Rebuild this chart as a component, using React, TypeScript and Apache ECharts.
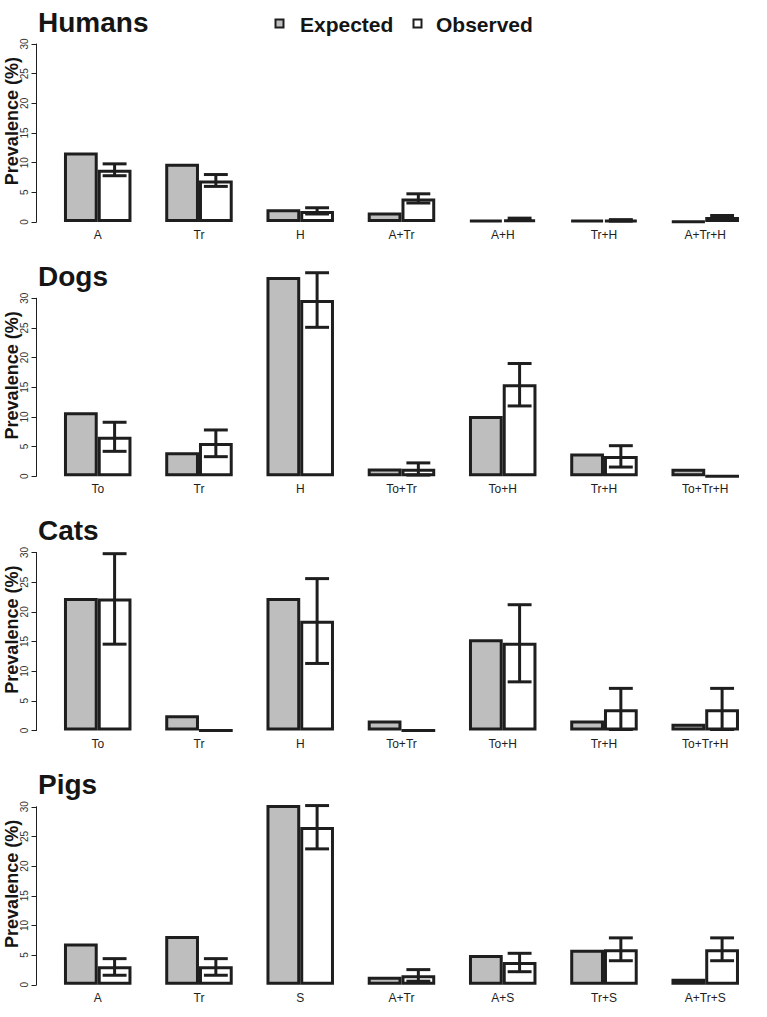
import React, { useEffect, useRef } from "react";
import * as echarts from "echarts";

const panelNames = ["Humans", "Dogs", "Cats", "Pigs"];

const humansCategories = ["A", "Tr", "H", "A+Tr", "A+H", "Tr+H", "A+Tr+H"];
const humansExpected = [11.7, 9.8, 2.15, 1.6, 0.3, 0.3, 0.1];
const humansObserved = [8.8, 7.0, 1.85, 3.95, 0.45, 0.3, 0.85];
const humansLow = [7.8, 6.0, 1.35, 3.2, 0.25, 0.15, 0.55];
const humansHigh = [9.8, 8.0, 2.4, 4.75, 0.65, 0.4, 1.1];

const dogsCategories = ["To", "Tr", "H", "To+Tr", "To+H", "Tr+H", "To+Tr+H"];
const dogsExpected = [10.8, 4.05, 33.6, 1.3, 10.15, 3.85, 1.25];
const dogsObserved = [6.65, 5.6, 29.7, 1.25, 15.5, 3.4, 0];
const dogsLow = [4.2, 3.3, 25.1, 0.2, 11.85, 1.55, null];
const dogsHigh = [9.1, 7.8, 34.3, 2.25, 19.0, 5.15, null];

const catsCategories = ["To", "Tr", "H", "To+Tr", "To+H", "Tr+H", "To+Tr+H"];
const catsExpected = [22.35, 2.55, 22.35, 1.7, 15.4, 1.7, 1.13];
const catsObserved = [22.25, 0, 18.5, 0, 14.8, 3.6, 3.6];
const catsLow = [14.55, null, 11.3, null, 8.2, 0.17, 0.17];
const catsHigh = [29.8, null, 25.6, null, 21.2, 7.1, 7.1];

const pigsCategories = ["A", "Tr", "S", "A+Tr", "A+S", "Tr+S", "A+Tr+S"];
const pigsExpected = [6.95, 8.2, 30.3, 1.35, 5.0, 5.9, 1.0];
const pigsObserved = [3.1, 3.1, 26.6, 1.6, 3.85, 6.0, 6.0];
const pigsLow = [1.6, 1.6, 22.9, 0.6, 2.2, 4.05, 4.05];
const pigsHigh = [4.4, 4.4, 30.2, 2.55, 5.3, 7.9, 7.9];

const yTicksMin = 0;
const yTicksMax = 30;
const yTickStep = 5;

const legendNames = ["Expected", "Observed"];
const yLabel = "Prevalence (%)";

const panels = [
  { cats: humansCategories, exp: humansExpected, obs: humansObserved, low: humansLow, high: humansHigh },
  { cats: dogsCategories, exp: dogsExpected, obs: dogsObserved, low: dogsLow, high: dogsHigh },
  { cats: catsCategories, exp: catsExpected, obs: catsObserved, low: catsLow, high: catsHigh },
  { cats: pigsCategories, exp: pigsExpected, obs: pigsObserved, low: pigsLow, high: pigsHigh },
];

const FONT = "'Liberation Sans', Arial, Helvetica, sans-serif";
const INK = "#1e1e1e";
const GRAY = "#bebebe";

export default function App() {
  const ref = useRef<HTMLDivElement>(null);

  useEffect(() => {
    document.body.style.margin = "0";
    if (!ref.current) return;
    const chart = echarts.init(ref.current, null, { renderer: "svg" });

    const PANEL_STEP = 254.25;
    const ZERO0 = 222;
    const PLOT_H = 178;
    const GRID_LEFT = 47.1;
    const GRID_W = 708.75;
    const AXIS_X = 36.5;

    const grids: any[] = [];
    const xAxes: any[] = [];
    const yAxes: any[] = [];
    const series: any[] = [];
    const graphics: any[] = [];

    panels.forEach((p, i) => {
      const zero = ZERO0 + PANEL_STEP * i;
      grids.push({ left: GRID_LEFT, width: GRID_W, top: zero - PLOT_H, height: PLOT_H });
      xAxes.push({
        type: "category",
        gridIndex: i,
        data: p.cats,
        axisLine: { show: false },
        axisTick: { show: false },
        axisLabel: { interval: 0, fontSize: 12, color: INK, margin: 7, fontFamily: FONT },
      });
      yAxes.push({
        type: "value",
        gridIndex: i,
        min: yTicksMin,
        max: yTicksMax,
        interval: yTickStep,
        offset: GRID_LEFT - AXIS_X,
        axisLine: { show: true, lineStyle: { color: INK, width: 1 } },
        axisTick: { show: true, length: 5, lineStyle: { color: INK, width: 1 } },
        axisLabel: { rotate: 90, fontSize: 10, color: "#333", margin: 7, fontFamily: FONT },
        splitLine: { show: false },
      });
      series.push({
        name: legendNames[0],
        type: "bar",
        xAxisIndex: i,
        yAxisIndex: i,
        data: p.exp,
        clip: false,
        barGap: "0%",
        barCategoryGap: "33.333%",
        itemStyle: { color: GRAY, borderColor: INK, borderWidth: 3 },
        emphasis: { disabled: true },
      });
      series.push({
        name: legendNames[1],
        type: "bar",
        xAxisIndex: i,
        yAxisIndex: i,
        data: p.obs,
        clip: false,
        barGap: "0%",
        barCategoryGap: "33.333%",
        itemStyle: { color: "#ffffff", borderColor: INK, borderWidth: 3 },
        emphasis: { disabled: true },
      });
      const errData = p.cats
        .map((_, k) => (p.low[k] == null ? null : [k, p.low[k], p.high[k]]))
        .filter((d) => d != null);
      series.push({
        type: "custom",
        xAxisIndex: i,
        yAxisIndex: i,
        clip: false,
        z: 5,
        encode: { x: 0, y: [1, 2] },
        data: errData,
        renderItem: (params: any, api: any) => {
          const idx = api.value(0);
          const lo = api.coord([idx, api.value(1)]);
          const hi = api.coord([idx, api.value(2)]);
          const band = api.size([1, 0])[0];
          const cx = lo[0] + band / 6;
          const half = band * 0.118;
          const st = { stroke: INK, lineWidth: 3 };
          return {
            type: "group",
            children: [
              { type: "line", shape: { x1: cx, y1: lo[1], x2: cx, y2: hi[1] }, style: st },
              { type: "line", shape: { x1: cx - half, y1: lo[1], x2: cx + half, y2: lo[1] }, style: st },
              { type: "line", shape: { x1: cx - half, y1: hi[1], x2: cx + half, y2: hi[1] }, style: st },
            ],
          };
        },
      });
      graphics.push({
        type: "text",
        left: 38,
        top: PANEL_STEP * i + 8,
        style: { text: panelNames[i], font: `bold 28px ${FONT}`, fill: "#151515" },
      });
      graphics.push({
        type: "text",
        x: 12,
        y: zero - 17 * (PLOT_H / 30),
        rotation: Math.PI / 2,
        style: {
          text: yLabel,
          font: `bold 18px ${FONT}`,
          fill: "#151515",
          align: "center",
          verticalAlign: "middle",
        },
      });
    });

    graphics.push(
      { type: "rect", shape: { x: 275.5, y: 19.5, width: 8, height: 8 }, style: { fill: GRAY, stroke: INK, lineWidth: 2 } },
      { type: "text", x: 300, y: 24.5, style: { text: legendNames[0], font: `bold 21px ${FONT}`, fill: "#151515", verticalAlign: "middle" } },
      { type: "rect", shape: { x: 413.5, y: 19.5, width: 8, height: 8 }, style: { fill: "#ffffff", stroke: INK, lineWidth: 2 } },
      { type: "text", x: 436, y: 24.5, style: { text: legendNames[1], font: `bold 21px ${FONT}`, fill: "#151515", verticalAlign: "middle" } }
    );

    chart.setOption({
      animation: false,
      backgroundColor: "#ffffff",
      grid: grids,
      xAxis: xAxes,
      yAxis: yAxes,
      series,
      graphic: graphics,
    });

    return () => chart.dispose();
  }, []);

  return <div ref={ref} style={{ width: 767, height: 1017 }} />;
}
